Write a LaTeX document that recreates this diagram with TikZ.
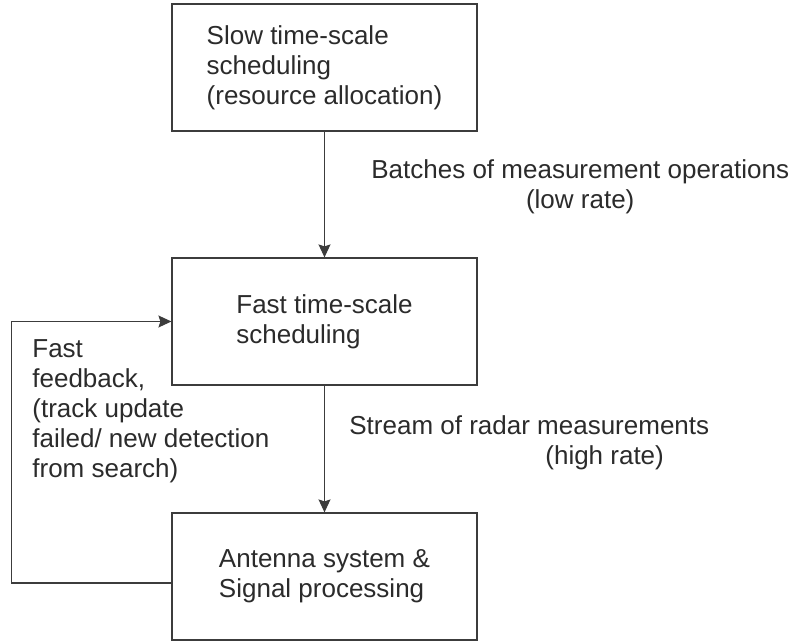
\documentclass[tikz,border=0pt]{standalone}
\usepackage{fontspec}
\setmainfont{Liberation Sans}
\usepackage{tikz}
\usetikzlibrary{shapes.geometric, arrows}
\usetikzlibrary{arrows.meta}
\definecolor{inkgray}{HTML}{2B2B2B}
\definecolor{linegray}{HTML}{3C3C3C}
\tikzstyle{process} = [rectangle, minimum width=152.5pt, minimum height=63.5pt, inner sep=0pt, align=left, draw=linegray, line width=0.6pt, text=inkgray, font=\fontsize{13}{15}\selectfont]
\tikzstyle{note} = [inner sep=0pt, text=inkgray, font=\fontsize{13}{15}\selectfont]
\tikzstyle{arrow} = [draw=linegray, line width=0.6pt, -{Stealth[length=6.5pt, width=6pt, inset=1pt]}]

\begin{document}
\begin{tikzpicture}[node distance=127pt]
                        \useasboundingbox[fill=white] (-162.25pt,-160.25pt) rectangle (234.25pt,160.75pt);

                        \node (fast) [process] {Fast time-scale\\scheduling};
                        \node (slow) [process, above of=fast] {Slow time-scale\\scheduling\\(resource allocation)};
                        \node (antenna) [process, below of=fast, yshift=-0.5pt] {Antenna system \&\\Signal processing};

                        \node (batches) [note, anchor=west, align=center] at (23.25pt,67.25pt) {Batches of measurement operations\\(low rate)};
                        \node (stream) [note, anchor=west, align=left] at (12.25pt,-60.5pt) {Stream of radar measurements\\\hspace*{98pt}(high rate)};
                        \node (feedback) [note, anchor=west, align=left] at (-146.25pt,-45pt) {Fast\\feedback,\\(track update\\failed/ new detection\\from search)};

                        \draw [arrow] (slow) -- (fast);
                        \draw [arrow] (fast) -- (antenna);
                        \draw [arrow] ([yshift=-3.25pt]antenna.west) -- ++(-80pt,0) |- (fast.west);
                    \end{tikzpicture}
\end{document}
